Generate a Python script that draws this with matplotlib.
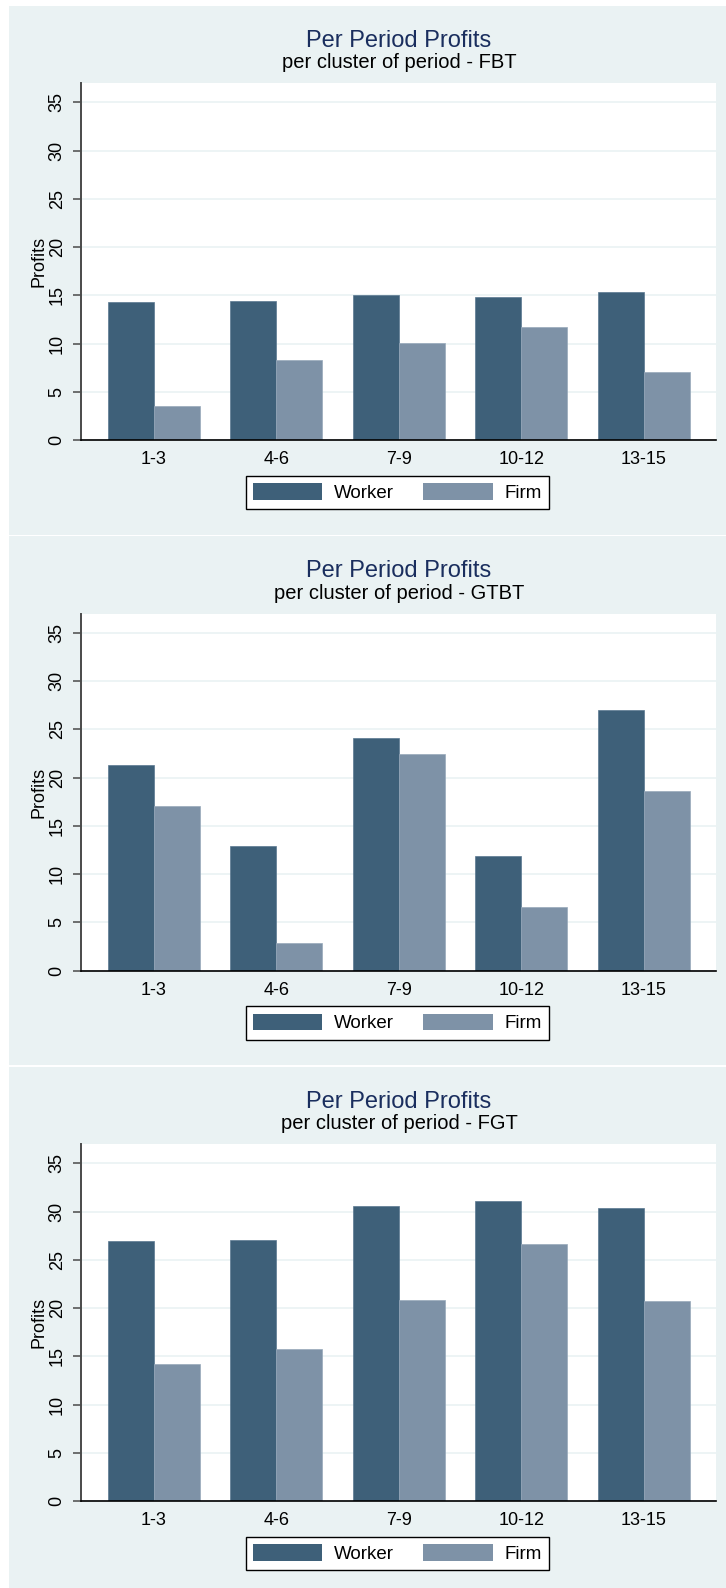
"""
Per Period Profits - three treatments (FBT / GTBT / FGT), bars per cluster of periods
"""
import numpy as np
import matplotlib
matplotlib.use('Agg')
import matplotlib.pyplot as plt
from matplotlib.patches import Rectangle, Patch

matplotlib.rcParams['font.family'] = ['Liberation Sans', 'DejaVu Sans']

# ==================== data ====================
periods = ['1-3', '4-6', '7-9', '10-12', '13-15']
treatments = ['FBT', 'GTBT', 'FGT']

worker_fbt = [14.3, 14.4, 15.0, 14.8, 15.3]
firm_fbt = [3.5, 8.3, 10.1, 11.7, 7.0]

worker_gtbt = [21.3, 12.9, 24.1, 11.9, 27.0]
firm_gtbt = [17.0, 2.9, 22.4, 6.6, 18.6]

worker_fgt = [26.9, 27.0, 30.6, 31.1, 30.4]
firm_fgt = [14.2, 15.8, 20.8, 26.6, 20.7]

yticks = [0, 5, 10, 15, 20, 25, 30, 35]

# ==================== style ====================
W, H = 726, 1588
BG = '#EAF2F3'
C_WORKER = '#3E6079'
C_FIRM = '#7E92A7'
TITLE_COLOR = '#1A2E5E'
BAR_W = 0.376

PANEL_TOP0 = 6
PANEL_STEP = 530.5
PANEL_H = 528.5


def fx(px):
    return px / W


def fy(py):
    return 1 - py / H


fig = plt.figure(figsize=(W / 100, H / 100), dpi=100, facecolor='white')

panels = [(worker_fbt, firm_fbt), (worker_gtbt, firm_gtbt), (worker_fgt, firm_fgt)]
x = np.arange(len(periods))

for k, (worker, firm) in enumerate(panels):
    top = PANEL_TOP0 + k * PANEL_STEP

    # panel background (behind the axes)
    fig.patches.append(Rectangle((fx(9), fy(top + PANEL_H)), fx(W - 9), PANEL_H / H,
                                 transform=fig.transFigure, facecolor=BG,
                                 edgecolor='none', zorder=-10))

    ax = fig.add_axes([fx(81), fy(top + 434), fx(716 - 81), 357 / H])
    ax.set_facecolor('white')

    ax.bar(x - BAR_W / 2, worker, width=BAR_W, color=C_WORKER,
           edgecolor='#5A7890', linewidth=0.5, zorder=2)
    ax.bar(x + BAR_W / 2, firm, width=BAR_W, color=C_FIRM,
           edgecolor='#98A9BB', linewidth=0.5, zorder=2)

    ax.set_xlim(-0.596, 4.59)
    ax.set_ylim(0, 37)
    ax.set_xticks(x)
    ax.set_xticklabels(periods)
    ax.set_yticks(yticks)
    ax.set_yticklabels([str(v) for v in yticks], rotation=90, va='center')
    ax.yaxis.grid(True, color=BG, linewidth=1.2)
    ax.set_axisbelow(True)

    for s in ['top', 'right']:
        ax.spines[s].set_visible(False)
    ax.spines['left'].set_color('#4a4a4a')
    ax.spines['left'].set_linewidth(1.4)
    ax.spines['bottom'].set_color('black')
    ax.spines['bottom'].set_linewidth(1.2)
    ax.spines['bottom'].set_zorder(3)

    ax.tick_params(axis='y', length=6, width=1.1, color='#4a4a4a', labelsize=13, pad=5)
    ax.tick_params(axis='x', length=0, labelsize=13, pad=8)

    ax.set_ylabel('Profits', fontsize=13, va='center')
    ax.yaxis.set_label_coords(-0.066, 0.5)

    # titles
    fig.text(fx(399), fy(top + 40.7), 'Per Period Profits', ha='center', va='baseline',
             fontsize=17, color=TITLE_COLOR)
    fig.text(fx(399), fy(top + 62.3), f'per cluster of period - {treatments[k]}',
             ha='center', va='baseline', fontsize=14.5, color='black')

    # legend
    handles = [Patch(facecolor=C_WORKER, edgecolor='none'),
               Patch(facecolor=C_FIRM, edgecolor='none')]
    leg = ax.legend(handles, ['Worker', 'Firm'], ncol=2, loc='center',
                    bbox_to_anchor=(fx(397.5), fy(top + 486.5)),
                    bbox_transform=fig.transFigure, frameon=True, fancybox=False,
                    edgecolor='black', facecolor='white', framealpha=1, fontsize=13.5,
                    handlelength=3.7, handleheight=1.0, handletextpad=0.65,
                    columnspacing=1.55, borderpad=0.38, borderaxespad=0)
    leg.get_frame().set_linewidth(1.0)

fig.savefig('out.png', dpi=100, facecolor='white')
